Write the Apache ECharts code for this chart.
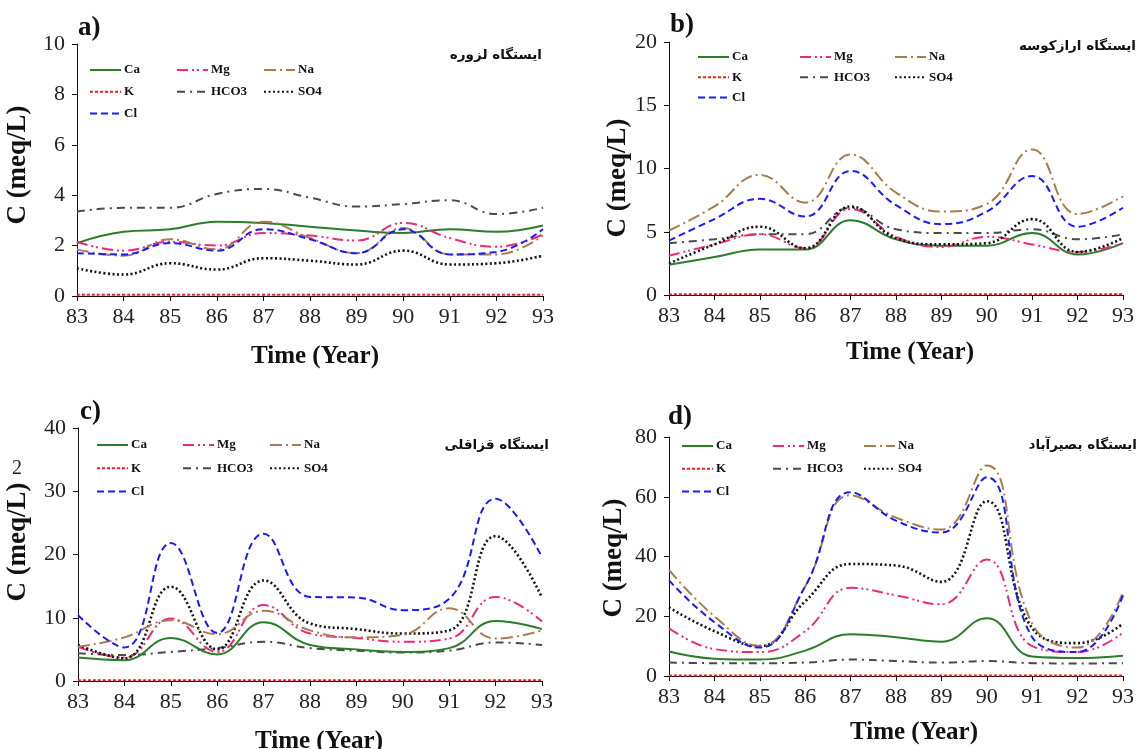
<!DOCTYPE html>
<html>
<head>
<meta charset="utf-8">
<script src="https://cdn.jsdelivr.net/npm/echarts@6/dist/echarts.min.js"></script>
<style>
html,body{margin:0;padding:0;background:#fff;}
#chart{width:1137px;height:749px;}
</style>
</head>
<body>
<div id="chart"></div>
<script>
// ---- data ----
const years = [83, 84, 85, 86, 87, 88, 89, 90, 91, 92, 93];
const ions = ['Ca', 'Mg', 'Na', 'K', 'HCO3', 'SO4', 'Cl'];

// a) Lazureh
const caA   = [2.1, 2.55, 2.65, 2.95, 2.9, 2.75, 2.6, 2.5, 2.65, 2.55, 2.8];
const mgA   = [2.15, 1.8, 2.15, 2.0, 2.5, 2.4, 2.2, 2.9, 2.3, 1.95, 2.45];
const naA   = [1.85, 1.6, 2.25, 1.85, 2.95, 2.3, 1.7, 2.7, 1.65, 1.65, 2.4];
const kA    = [0.05, 0.05, 0.05, 0.05, 0.05, 0.05, 0.05, 0.05, 0.05, 0.05, 0.05];
const hco3A = [3.35, 3.5, 3.5, 4.05, 4.25, 3.9, 3.55, 3.65, 3.8, 3.25, 3.5];
const so4A  = [1.1, 0.85, 1.3, 1.05, 1.5, 1.4, 1.25, 1.8, 1.25, 1.3, 1.6];
const clA   = [1.7, 1.65, 2.1, 1.8, 2.65, 2.25, 1.7, 2.65, 1.65, 1.75, 2.65];

// b) Arazkuseh
const caB   = [2.4, 3.0, 3.6, 3.6, 5.9, 4.4, 3.9, 3.9, 4.9, 3.2, 4.1];
const mgB   = [3.1, 4.0, 4.8, 3.7, 6.8, 4.6, 3.8, 4.6, 4.0, 3.4, 4.1];
const naB   = [5.1, 7.0, 9.5, 7.3, 11.1, 8.1, 6.6, 7.2, 11.5, 6.4, 7.8];
const kB    = [0.06, 0.06, 0.06, 0.06, 0.06, 0.06, 0.06, 0.06, 0.06, 0.06, 0.06];
const hco3B = [4.1, 4.4, 4.8, 4.8, 6.9, 5.2, 4.9, 4.9, 5.2, 4.4, 4.8];
const so4B  = [2.5, 4.0, 5.4, 3.7, 7.0, 4.5, 4.0, 4.1, 6.0, 3.4, 4.5];
const clB   = [4.3, 6.0, 7.6, 6.2, 9.8, 7.1, 5.6, 6.6, 9.4, 5.4, 6.9];

// c) Ghazaghli
const caC   = [3.7, 3.3, 6.8, 4.2, 9.3, 5.7, 5.0, 4.6, 5.2, 9.5, 8.2];
const mgC   = [5.4, 3.7, 9.9, 4.6, 12.0, 7.5, 6.8, 6.2, 6.7, 13.3, 9.4];
const naC   = [5.4, 6.9, 9.6, 7.4, 11.1, 8.0, 6.9, 7.3, 11.5, 6.7, 8.0];
const kC    = [0.1, 0.1, 0.1, 0.1, 0.1, 0.1, 0.1, 0.1, 0.1, 0.1, 0.1];
const hco3C = [4.4, 4.1, 4.6, 5.2, 6.2, 5.2, 4.8, 4.5, 4.8, 6.1, 5.7];
const so4C  = [5.7, 3.6, 14.9, 5.0, 15.9, 9.1, 8.2, 7.5, 8.0, 22.9, 13.2];
const clC   = [10.4, 5.3, 21.8, 7.6, 23.3, 13.3, 13.2, 11.2, 13.0, 28.8, 19.6];

// d) Basirabad
const caD   = [8.2, 5.8, 5.5, 8.5, 14.0, 13.0, 11.5, 19.3, 6.5, 6.0, 6.8];
const mgD   = [16.0, 9.0, 8.0, 15.0, 29.5, 27.0, 24.0, 39.0, 10.0, 8.0, 14.5];
const naD   = [35.5, 20.0, 10.0, 30.0, 60.5, 53.0, 49.0, 70.5, 17.5, 9.5, 28.0];
const kD    = [0.15, 0.15, 0.15, 0.15, 0.15, 0.15, 0.15, 0.15, 0.15, 0.15, 0.15];
const hco3D = [4.5, 4.3, 4.3, 4.5, 5.5, 5.0, 4.5, 5.0, 4.3, 4.2, 4.3];
const so4D  = [23.0, 15.0, 10.0, 25.0, 37.5, 37.0, 31.5, 58.5, 16.0, 11.0, 17.5];
const clD   = [32.0, 18.0, 9.5, 30.0, 61.5, 52.0, 48.0, 66.5, 13.0, 8.0, 27.0];

const yMaxes = [10, 20, 40, 80];
const yIntervals = [2, 5, 10, 20];
const panelLetters = ['a)', 'b)', 'c)', 'd)'];
const stations = ['ایستگاه لزوره', 'ایستگاه ارازکوسه', 'ایستگاه قزاقلی', 'ایستگاه بصیرآباد'];
const yTitle = 'C (meq/L)';
const xTitle = 'Time (Year)';

const panelData = [
  {Ca: caA, Mg: mgA, Na: naA, K: kA, HCO3: hco3A, SO4: so4A, Cl: clA},
  {Ca: caB, Mg: mgB, Na: naB, K: kB, HCO3: hco3B, SO4: so4B, Cl: clB},
  {Ca: caC, Mg: mgC, Na: naC, K: kC, HCO3: hco3C, SO4: so4C, Cl: clC},
  {Ca: caD, Mg: mgD, Na: naD, K: kD, HCO3: hco3D, SO4: so4D, Cl: clD}
];

// ---- styles ----
const styles = {
  Ca:   {color: '#2a7d2a', type: 'solid', width: 2},
  Mg:   {color: '#f0287a', type: [11, 4, 2, 3, 2, 4], width: 2},
  Na:   {color: '#a87c4f', type: [12, 4, 2, 4], width: 2},
  K:    {color: '#ff1a1a', type: [3, 2], width: 2},
  HCO3: {color: '#4a4a4a', type: [8, 5, 2, 5], width: 2},
  SO4:  {color: '#111111', type: [2, 2.5], width: 2.6},
  Cl:   {color: '#1a1aff', type: [7, 4], width: 2}
};

const grids = [
  {left: 77, top: 44, width: 466, height: 252},
  {left: 669, top: 42, width: 455, height: 253},
  {left: 78, top: 428, width: 464, height: 253},
  {left: 669, top: 437, width: 455, height: 239}
];

// legend layout per panel: column x positions, first row center, row step
const legendLayout = [
  {cols: [89, 176, 263], row: 70, step: 21.7},
  {cols: [697, 799, 894], row: 57, step: 20.3},
  {cols: [96, 182, 269], row: 445, step: 23.3},
  {cols: [681, 772, 863], row: 446, step: 22.8}
];
const legendCols = [['Ca', 'K', 'Cl'], ['Mg', 'HCO3'], ['Na', 'SO4']];

// title positions
const xTitlePos = [[315, 357], [910, 353], [319, 742], [914, 733]];
const yTitlePos = [[18, 165], [618, 178], [18, 542], [614, 558]];
const letterPos = [[78, 30], [670, 27], [80, 414], [668, 419]];
const stationPos = [[542, 55], [1136, 46], [549, 445], [1137, 445]];

const serif = '"Liberation Serif", "Times New Roman", serif';

const option = {
  backgroundColor: '#fff',
  animation: false,
  grid: grids.map(g => Object.assign({containLabel: false}, g)),
  xAxis: grids.map((g, i) => ({
    gridIndex: i, type: 'value', min: 83, max: 93, interval: 1,
    splitLine: {show: false},
    axisLine: {show: true, onZero: false, lineStyle: {color: '#111', width: 1}},
    axisTick: {show: true, inside: false, length: 5, lineStyle: {color: '#111'}},
    axisLabel: {fontFamily: serif, fontSize: 22, color: '#222', margin: 10, showMinLabel: true, showMaxLabel: true}
  })),
  yAxis: grids.map((g, i) => ({
    gridIndex: i, type: 'value', min: 0, max: yMaxes[i], interval: yIntervals[i],
    splitLine: {show: false},
    axisLine: {show: true, lineStyle: {color: '#111', width: 1}},
    axisTick: {show: true, inside: false, length: 5, lineStyle: {color: '#111'}},
    axisLabel: {fontFamily: serif, fontSize: 22, color: '#222', margin: 12}
  })),
  legend: [],
  series: [],
  graphic: []
};

const drawOrder = ['K', 'HCO3', 'Ca', 'Mg', 'SO4', 'Na', 'Cl'];
panelData.forEach((pd, i) => {
  drawOrder.forEach(name => {
    const st = styles[name];
    option.series.push({
      name: name, type: 'line', xAxisIndex: i, yAxisIndex: i,
      data: years.map((y, k) => [y, pd[name][k]]),
      smooth: 0.45, symbol: 'none', showSymbol: false,
      lineStyle: {color: st.color, type: st.type, width: st.width},
      itemStyle: {color: st.color},
      z: 2
    });
  });
  const L = legendLayout[i];
  legendCols.forEach((col, c) => {
    option.legend.push({
      orient: 'vertical', left: L.cols[c], top: L.row - 7,
      itemWidth: 31, itemHeight: 14, itemGap: L.step - 14,
      padding: 0, selectedMode: false,
      itemStyle: {opacity: 0},
      data: col,
      textStyle: {fontFamily: serif, fontWeight: 'bold', fontSize: 13, color: '#111', padding: [0, 0, 0, -2], lineHeight: 14}
    });
  });
  option.graphic.push({
    type: 'text', left: letterPos[i][0], top: letterPos[i][1] - 15,
    style: {text: panelLetters[i], font: 'bold 27px ' + serif, fill: '#111'}
  });
  option.graphic.push({
    type: 'text', x: xTitlePos[i][0], y: xTitlePos[i][1],
    style: {text: xTitle, font: 'bold 25px ' + serif, fill: '#111', align: 'center', verticalAlign: 'middle'}
  });
  option.graphic.push({
    type: 'text', x: yTitlePos[i][0], y: yTitlePos[i][1], rotation: Math.PI / 2,
    style: {text: yTitle, font: 'bold 27px ' + serif, fill: '#111', align: 'center', verticalAlign: 'middle'}
  });
  option.graphic.push({
    type: 'text', x: stationPos[i][0], y: stationPos[i][1],
    style: {text: stations[i], font: 'bold 13.5px "DejaVu Sans", sans-serif', fill: '#111', align: 'right', verticalAlign: 'middle'}
  });
});
// stray superscript on panel c axis title
option.graphic.push({
  type: 'text', x: 17, y: 469,
  style: {text: '2', font: '20px ' + serif, fill: '#222', align: 'center', verticalAlign: 'middle'}
});

const chart = echarts.init(document.getElementById('chart'), null, {renderer: 'canvas'});
chart.setOption(option);
</script>
</body>
</html>
